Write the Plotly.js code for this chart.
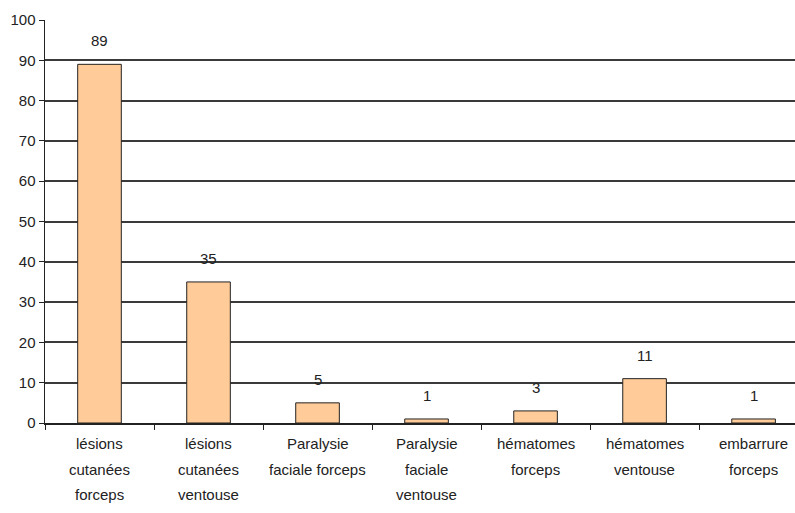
<!DOCTYPE html>
<html><head><meta charset="utf-8">
<script src="https://cdn.plot.ly/plotly-3.0.1.min.js"></script>
<style>html,body{margin:0;padding:0;background:#fff}</style>
</head><body>
<div id="chart" style="width:795px;height:513px"></div>
<script>
var categories = [
  "lésions<br>cutanées<br>forceps",
  "lésions<br>cutanées<br>ventouse",
  "Paralysie<br>faciale forceps",
  "Paralysie<br>faciale<br>ventouse",
  "hématomes<br>forceps",
  "hématomes<br>ventouse",
  "embarrure<br>forceps"
];
var values = [89, 35, 5, 1, 3, 11, 1];
var yTicks = [0, 10, 20, 30, 40, 50, 60, 70, 80, 90, 100];

var FONT = "Liberation Sans, Arial, sans-serif";
var ids = categories.map(function(c, i){ return i; });

var annotations = [];
values.forEach(function(v, i){
  annotations.push({x: i, y: v, xref: 'x', yref: 'y', text: String(v), showarrow: false,
    yanchor: 'bottom', yshift: 13, font: {family: FONT, size: 15, color: '#222'}});
});
categories.forEach(function(c, i){
  c.split('<br>').forEach(function(line, j){
    annotations.push({x: i, y: 0, xref: 'x', yref: 'y', text: line, showarrow: false,
      yanchor: 'middle', yshift: -20.5 - 25.5 * j, font: {family: FONT, size: 15, color: '#222'}});
  });
});

Plotly.newPlot('chart', [{
  type: 'bar', x: ids, y: values, width: 0.4,
  marker: {color: '#FFCC99', line: {color: '#222', width: 1}},
  hoverinfo: 'none'
}], {
  width: 795, height: 513,
  margin: {l: 45, r: 0, t: 20, b: 90},
  paper_bgcolor: '#fff', plot_bgcolor: '#fff',
  showlegend: false,
  bargap: 0.6,
  xaxis: {type: 'linear', range: [-0.5, 6.38], tickvals: [-0.5, 0.5, 1.5, 2.5, 3.5, 4.5, 5.5, 6.5],
    showticklabels: false, ticks: 'outside', ticklen: 5, tickcolor: '#222',
    showgrid: false, zeroline: false, showline: true, linecolor: '#222', linewidth: 1.5, fixedrange: true},
  yaxis: {range: [0, 100], tickvals: yTicks, ticks: 'outside', ticklen: 5, tickcolor: '#222',
    showgrid: true, gridcolor: '#3a3a3a', gridwidth: 2, zeroline: false,
    showline: true, linecolor: '#222', linewidth: 1.5,
    tickfont: {family: FONT, size: 15, color: '#222'}, fixedrange: true},
  annotations: annotations
}, {staticPlot: true});
</script>
</body></html>
